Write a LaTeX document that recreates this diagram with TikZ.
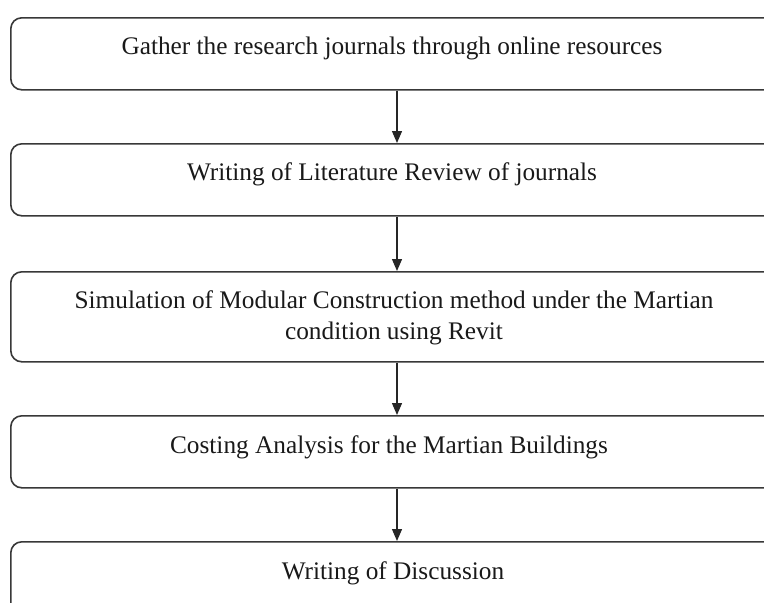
\documentclass[tikz,border=0pt]{standalone}
\usepackage{fontspec}
\setmainfont{Liberation Serif}
\usetikzlibrary{arrows.meta}
\tikzset{
  stepbox/.style={draw=black!78, line width=1.6pt, rounded corners=11pt,
    minimum width=772pt, minimum height=72pt, inner sep=0pt, anchor=north west},
  steptext/.style={font=\fontsize{25.3}{31}\selectfont, text=black!90, inner sep=0pt, anchor=base, align=center},
  flow/.style={draw=black!85, line width=1.3pt, -{Triangle[width=10pt,length=12pt]}}
}
\begin{document}
\begin{tikzpicture}[x=1pt,y=-1pt]
\useasboundingbox (0,0) rectangle (764,603);
\clip (0,0) rectangle (764,603);
\node[stepbox] (b1) at (10,17) {};
\node[stepbox] (b2) at (10,143) {};
\node[stepbox, minimum height=90pt] (b3) at (10,271) {};
\node[stepbox] (b4) at (10,415) {};
\node[stepbox] (b5) at (10,541) {};
\node[steptext] (t1) at (392,54) {Gather the research journals through online resources};
\node[steptext] (t2) at (392,180) {Writing of Literature Review of journals};
\node[steptext] (t3) at (394,339) {Simulation of Modular Construction method under the Martian\\condition using Revit};
\node[steptext] (t4) at (389,453) {Costing Analysis for the Martian Buildings};
\node[steptext] (t5) at (393,579) {Writing of Discussion};
\draw[flow] (b1.south -| 397,0) -- (b2.north -| 397,0);
\draw[flow] (b2.south -| 397,0) -- (b3.north -| 397,0);
\draw[flow] (b3.south -| 397,0) -- (b4.north -| 397,0);
\draw[flow] (b4.south -| 397,0) -- (b5.north -| 397,0);
\end{tikzpicture}
\end{document}
